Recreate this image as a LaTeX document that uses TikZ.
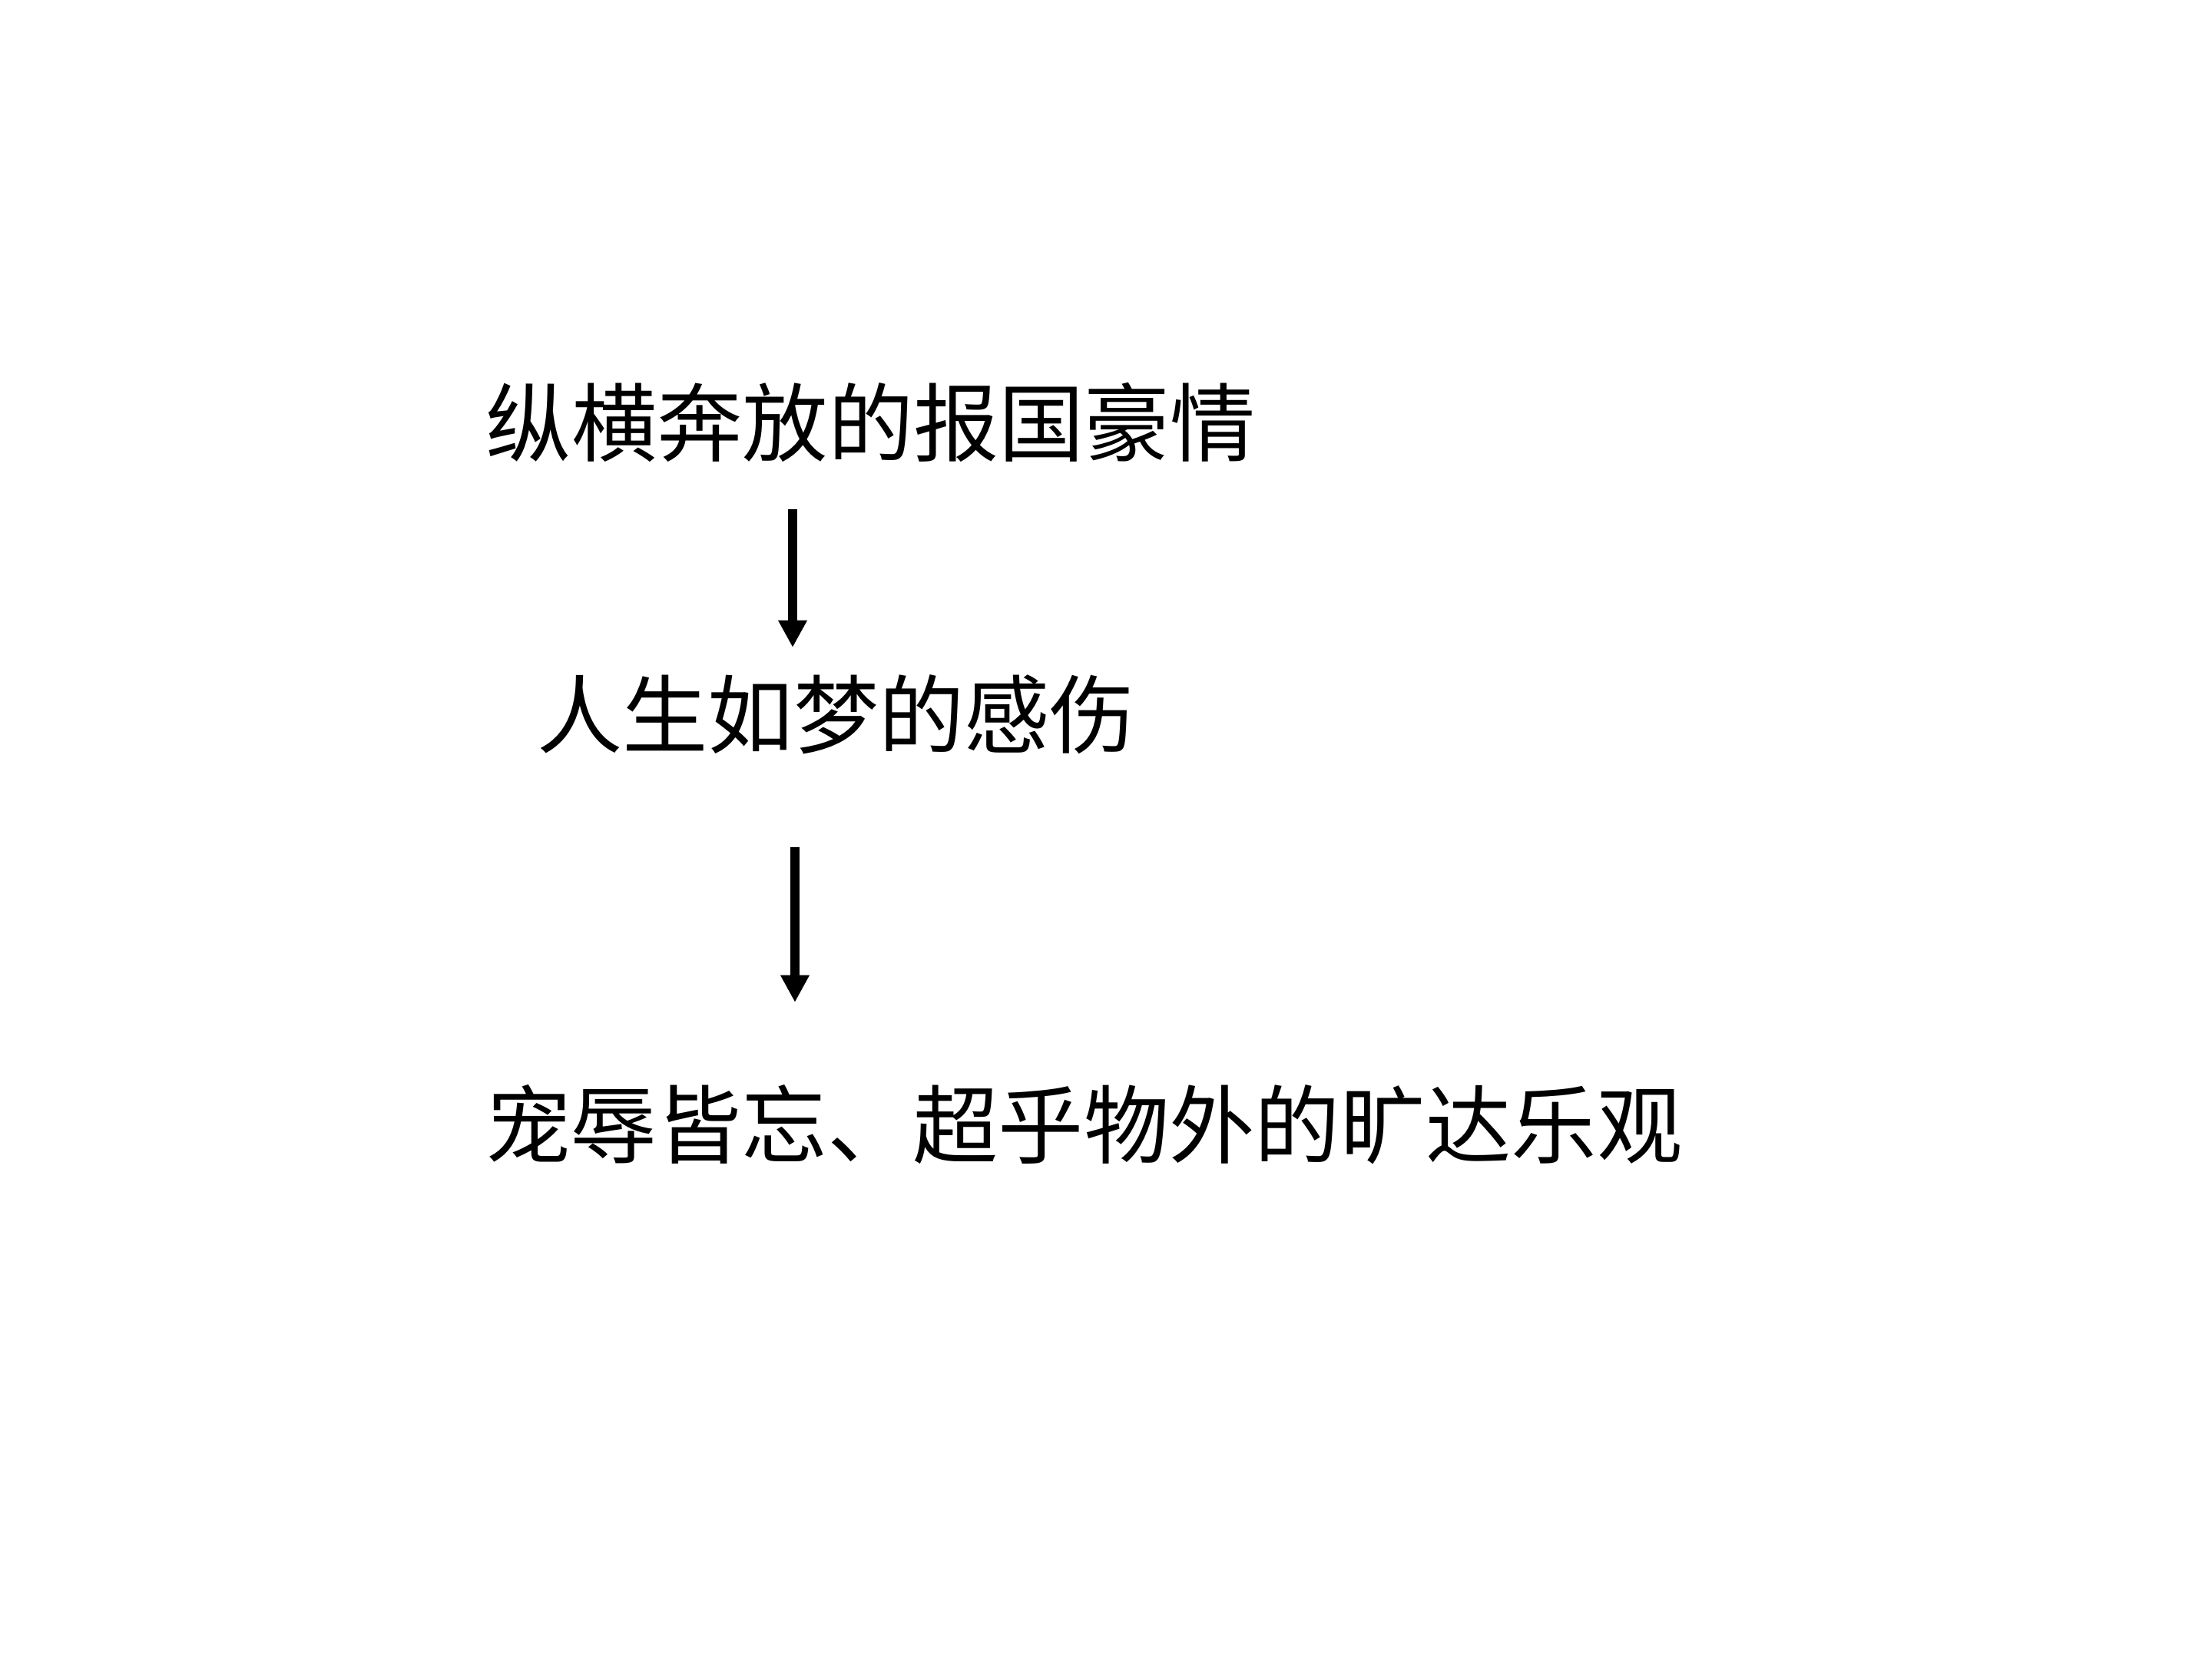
\documentclass[tikz,border=0pt]{standalone}
\usepackage{fontspec}
\usepackage{tikz}
\usetikzlibrary{arrows.meta}
\newfontfamily\cjk{Noto Sans CJK SC}

\tikzset{
  stage/.style={anchor=west, inner sep=0pt, font=\cjk\fontsize{17pt}{20pt}\selectfont},
  arr/.style={line width=1.9pt, -{Triangle[width=5.4pt,length=5.4pt]}}
}

\begin{document}
\begin{tikzpicture}

\useasboundingbox (0,0) rectangle (15.46,-11.595);

% definitions
\coordinate (a1top) at (5.540,-3.559);
\coordinate (a1end) at (5.540,-4.525);
\coordinate (a2top) at (5.556,-5.921);
\coordinate (a2end) at (5.556,-7.005);

% labels
\node[stage] (hao) at (3.39,-2.953) {纵横奔放的报国豪情};
\node[stage] (shang) at (3.746,-4.994) {人生如梦的感伤};
\node[stage] (kuang) at (3.386,-7.861) {宠辱皆忘、超乎物外的旷达乐观};

% drawing
\draw[arr] (a1top) -- (a1end);
\draw[arr] (a2top) -- (a2end);
\end{tikzpicture}
\end{document}
